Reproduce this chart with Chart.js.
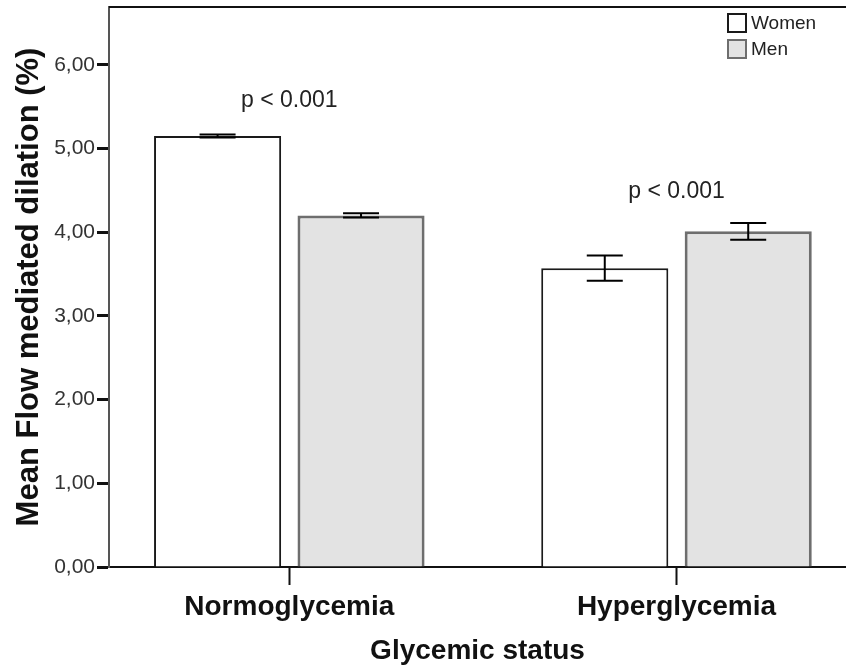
<!DOCTYPE html>
<html lang="en"><head><meta charset="utf-8">
<title>Flow mediated dilation by glycemic status</title>
<script src="https://cdn.jsdelivr.net/npm/chart.js@4.4.0/dist/chart.umd.min.js"></script>
<style>
  body { margin: 0; background: #fff; overflow: hidden; }
  #fmd { display: block; }
</style>
</head>
<body>
<canvas id="fmd" width="846" height="668"></canvas>
<script>
// data
const categories = ['Normoglycemia', 'Hyperglycemia'];
const womenMean = [5.15, 3.57];
const womenErr  = [0.018, 0.15];
const menMean   = [4.20, 4.01];
const menErr    = [0.026, 0.10];
const pLabels   = ['p < 0.001', 'p < 0.001'];
const pAt       = [5.50, 4.41];   // y value where the p text sits
const yTicks    = [0, 1, 2, 3, 4, 5, 6];

const FONT = '"Liberation Sans", Arial, sans-serif';

// error bars drawn on the bar elements
const errorBars = {
  id: 'errorBars',
  afterDatasetsDraw(chart) {
    const ctx = chart.ctx, y = chart.scales.y;
    chart.data.datasets.forEach((ds, di) => {
      const meta = chart.getDatasetMeta(di);
      meta.data.forEach((bar, i) => {
        const v = ds.data[i].y, e = ds.err[i];
        const top = y.getPixelForValue(v + e), bot = y.getPixelForValue(v - e);
        ctx.save();
        ctx.strokeStyle = '#000';
        ctx.lineWidth = 2;
        ctx.beginPath();
        ctx.moveTo(bar.x, top); ctx.lineTo(bar.x, bot);
        ctx.moveTo(bar.x - 18, top); ctx.lineTo(bar.x + 18, top);
        ctx.moveTo(bar.x - 18, bot); ctx.lineTo(bar.x + 18, bot);
        ctx.stroke();
        ctx.restore();
      });
    });
  }
};

// top frame line, legend box and p-value notes
const extras = {
  id: 'extras',
  afterDraw(chart) {
    const ctx = chart.ctx, a = chart.chartArea;
    const x = chart.scales.x, y = chart.scales.y;
    ctx.save();
    ctx.strokeStyle = '#111';
    ctx.lineWidth = 2;
    ctx.beginPath();
    ctx.moveTo(a.left, a.top); ctx.lineTo(a.right, a.top);
    ctx.stroke();

    // legend
    ctx.font = '19px ' + FONT;
    ctx.textBaseline = 'middle';
    ctx.textAlign = 'left';
    chart.data.datasets.forEach((ds, i) => {
      const bx = a.right - 118, by = a.top + 7 + i * 26;
      ctx.fillStyle = ds.backgroundColor;
      ctx.fillRect(bx, by, 18, 18);
      ctx.strokeStyle = ds.borderColor;
      ctx.lineWidth = 2;
      ctx.strokeRect(bx, by, 18, 18);
      ctx.fillStyle = '#222';
      ctx.fillText(ds.label, bx + 23, by + 10);
    });

    // p values
    ctx.font = '23px ' + FONT;
    ctx.textAlign = 'center';
    ctx.textBaseline = 'alphabetic';
    ctx.fillStyle = '#222';
    pLabels.forEach((t, i) => {
      ctx.fillText(t, x.getPixelForValue(i), y.getPixelForValue(pAt[i]));
    });
    ctx.restore();
  }
};

new Chart(document.getElementById('fmd'), {
  type: 'bar',
  data: {
    datasets: [{
      label: 'Women',
      data: womenMean.map((v, i) => ({ x: i, y: v })),
      err: womenErr,
      backgroundColor: '#ffffff',
      borderColor: '#1a1a1a',
      borderWidth: 2
    }, {
      label: 'Men',
      data: menMean.map((v, i) => ({ x: i, y: v })),
      err: menErr,
      backgroundColor: '#e3e3e3',
      borderColor: '#6e6e6e',
      borderWidth: 3
    }]
  },
  options: {
    responsive: false,
    animation: false,
    categoryPercentage: 0.741,
    barPercentage: 0.886,
    layout: { padding: { top: 7, right: 0, left: 0, bottom: 0 } },
    plugins: { legend: { display: false }, tooltip: { enabled: false } },
    scales: {
      x: {
        type: 'linear',
        offset: false,
        min: -0.4657,
        max: 1.4378,
        afterBuildTicks: s => { s.ticks = categories.map((c, i) => ({ value: i })); },
        afterFit: s => { s.height = 101; s.paddingLeft = 0; s.paddingRight = 0; },
        ticks: {
          callback: v => categories[v],
          font: { family: FONT, size: 28, weight: 'bold' },
          color: '#111',
          padding: 5,
          maxRotation: 0,
          autoSkip: false
        },
        grid: { offset: false, drawOnChartArea: false, tickLength: 18, tickWidth: 2, tickColor: '#111' },
        border: { display: true, color: '#111', width: 2 },
        title: {
          display: true,
          text: 'Glycemic status',
          font: { family: FONT, size: 28, weight: 'bold' },
          color: '#111',
          padding: { top: 4, bottom: 0 }
        }
      },
      y: {
        min: 0,
        max: 6.69,
        afterBuildTicks: s => { s.ticks = yTicks.map(v => ({ value: v })); },
        afterFit: s => { s.width = 109; s.paddingTop = 0; s.paddingBottom = 0; },
        ticks: {
          callback: v => v.toFixed(2).replace('.', ','),
          font: { family: FONT, size: 21 },
          color: '#333',
          padding: 2
        },
        grid: { drawOnChartArea: false, tickLength: 12, tickWidth: 3, tickColor: '#111' },
        border: { display: true, color: '#555', width: 2 },
        title: {
          display: true,
          text: 'Mean Flow mediated dilation (%)',
          font: { family: FONT, size: 31, weight: 'bold' },
          color: '#111',
          padding: { top: 11, bottom: 0 }
        }
      }
    }
  },
  plugins: [errorBars, extras]
});
</script>
</body></html>
